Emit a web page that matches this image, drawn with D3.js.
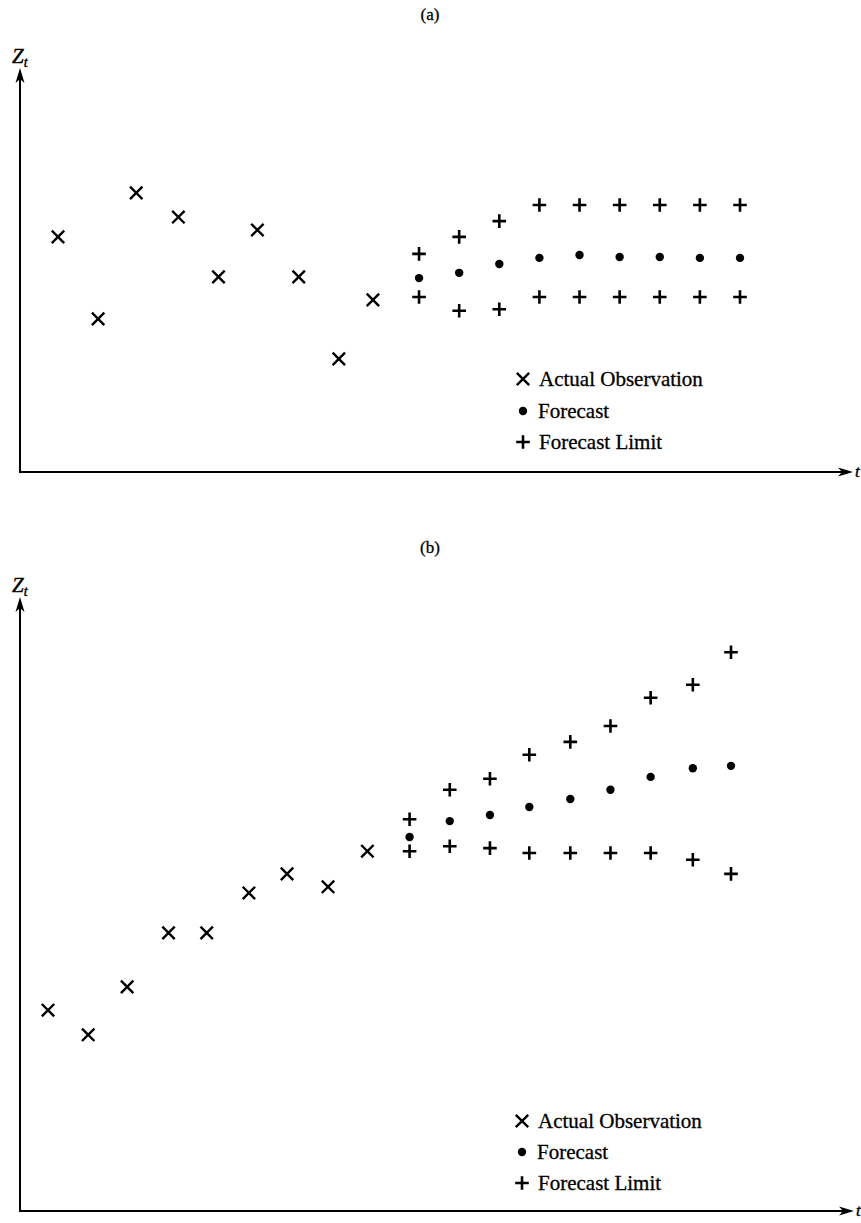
<!DOCTYPE html>
<html>
<head>
<meta charset="utf-8">
<script src="https://cdn.jsdelivr.net/npm/d3@7/dist/d3.min.js"></script>
<style>
  html, body { margin: 0; padding: 0; background: #fff; }
  svg { display: block; }
  text { font-family: "Liberation Serif", "Times New Roman", serif; fill: #000; }
</style>
</head>
<body>
<svg id="chart" width="861" height="1223"></svg>
<script>
// ---------- DATA ----------
const panelLabels = ["(a)", "(b)"];
const legendLabels = ["Actual Observation", "Forecast", "Forecast Limit"];
const yLabel = "Z";
const ySub = "t";
const xLabel = "t";

// Panel (a): stationary series
const timeObsA = [1, 2, 2.95, 4, 5, 5.97, 7, 8, 8.85];
const obsA = [58.2, 37.9, 69.1, 63.1, 48.3, 59.9, 48.3, 28.0, 42.6];
const timeFcA = [10, 11, 12, 13, 14, 15, 16, 17, 18];
const forecastA = [48.0, 49.3, 51.5, 53.0, 53.7, 53.2, 53.2, 53.0, 53.0];
const upperA = [54.0, 58.2, 62.1, 66.1, 66.1, 66.1, 66.1, 66.1, 66.1];
const lowerA = [43.3, 39.9, 40.3, 43.3, 43.3, 43.3, 43.3, 43.3, 43.3];

// Panel (b): trending series
const timeObsB = [1, 2, 2.97, 4, 4.95, 6, 6.95, 7.97, 8.95];
const obsB = [32.7, 28.7, 36.5, 45.3, 45.3, 51.8, 54.9, 52.8, 58.6];
const timeFcB = [10, 11, 12, 12.98, 14, 15, 16, 17.05, 18];
const forecastB = [60.9, 63.5, 64.5, 65.8, 67.1, 68.6, 70.7, 72.1, 72.5];
const upperB = [63.8, 68.6, 70.4, 74.3, 76.4, 79.0, 83.6, 85.7, 91.0];
const lowerB = [58.6, 59.4, 59.1, 58.3, 58.3, 58.3, 58.3, 57.2, 54.9];

const timeDomain = [1, 18];
const valueDomain = [0, 100];

// ---------- LAYOUT ----------
const panels = [
  { label: panelLabels[0], labelY: 20,
    axisX: 20, axisTop: 68, axisBottom: 472, axisRight: 853,
    xRange: [58, 740], yRange: [472, 68],
    legendX: 523, legendY: [379, 411, 442],
    tObs: timeObsA, obs: obsA, tFc: timeFcA, fc: forecastA, up: upperA, lo: lowerA },
  { label: panelLabels[1], labelY: 553,
    axisX: 20, axisTop: 597, axisBottom: 1211, axisRight: 854,
    xRange: [48, 731], yRange: [1211, 597],
    legendX: 522, legendY: [1121, 1152, 1183],
    tObs: timeObsB, obs: obsB, tFc: timeFcB, fc: forecastB, up: upperB, lo: lowerB }
];

const svg = d3.select("#chart");

const crossPath = "M-6.2,-6.2L6.2,6.2M-6.2,6.2L6.2,-6.2";
const plusPath = "M-6.8,0H6.8M0,-6.8V6.8";

function drawCross(g, x, y) {
  g.append("path").attr("d", crossPath).attr("transform", `translate(${x},${y})`)
    .attr("stroke", "#000").attr("stroke-width", 2.4).attr("fill", "none");
}
function drawPlus(g, x, y) {
  g.append("path").attr("d", plusPath).attr("transform", `translate(${x},${y})`)
    .attr("stroke", "#000").attr("stroke-width", 2.6).attr("fill", "none");
}
function drawDot(g, x, y) {
  g.append("circle").attr("cx", x).attr("cy", y).attr("r", 4.2).attr("fill", "#000");
}

panels.forEach(p => {
  const g = svg.append("g");
  const x = d3.scaleLinear().domain(timeDomain).range(p.xRange);
  const y = d3.scaleLinear().domain(valueDomain).range(p.yRange);

  // Panel label
  g.append("text").attr("x", 430).attr("y", p.labelY).attr("text-anchor", "middle")
    .attr("font-size", 17).attr("stroke", "#000").attr("stroke-width", 0.3).text(p.label);

  // Axes (plain lines with arrowheads)
  g.append("line").attr("x1", p.axisX).attr("x2", p.axisX)
    .attr("y1", p.axisBottom + 1).attr("y2", p.axisTop + 8)
    .attr("stroke", "#000").attr("stroke-width", 2);
  g.append("line").attr("x1", p.axisX - 1).attr("x2", p.axisRight - 8)
    .attr("y1", p.axisBottom).attr("y2", p.axisBottom)
    .attr("stroke", "#000").attr("stroke-width", 2);
  // y arrow
  const ax = p.axisX, at = p.axisTop;
  g.append("path").attr("d", `M${ax},${at} L${ax + 4.5},${at + 15} L${ax},${at + 11} L${ax - 4.5},${at + 15} Z`)
    .attr("fill", "#000");
  // x arrow
  const ar = p.axisRight, ab = p.axisBottom;
  g.append("path").attr("d", `M${ar},${ab} L${ar - 15},${ab - 4.5} L${ar - 11},${ab} L${ar - 15},${ab + 4.5} Z`)
    .attr("fill", "#000");

  // Axis titles
  const zt = g.append("text").attr("x", p.axisX - 8).attr("y", p.axisTop - 5)
    .attr("font-size", 21).attr("font-style", "italic")
    .attr("stroke", "#000").attr("stroke-width", 0.4);
  zt.append("tspan").text(yLabel);
  zt.append("tspan").attr("font-size", 14).attr("dy", 4).text(ySub);
  g.append("text").attr("x", p.axisRight + 2).attr("y", p.axisBottom + 5)
    .attr("font-size", 17).attr("font-style", "italic")
    .attr("stroke", "#000").attr("stroke-width", 0.4).text(xLabel);

  // Observations
  p.obs.forEach((v, i) => drawCross(g, x(p.tObs[i]), y(v)));
  // Forecasts
  p.fc.forEach((v, i) => drawDot(g, x(p.tFc[i]), y(v)));
  // Limits
  p.up.forEach((v, i) => drawPlus(g, x(p.tFc[i]), y(v)));
  p.lo.forEach((v, i) => drawPlus(g, x(p.tFc[i]), y(v)));

  // Legend
  const lx = p.legendX;
  drawCross(g, lx, p.legendY[0]);
  drawDot(g, lx, p.legendY[1]);
  drawPlus(g, lx, p.legendY[2]);
  legendLabels.forEach((t, i) => {
    g.append("text").attr("x", lx + 16 - (i === 1 ? 1 : 0)).attr("y", p.legendY[i] + 7)
      .attr("font-size", 21).attr("stroke", "#000").attr("stroke-width", 0.3).text(t);
  });
});
</script>
</body>
</html>
